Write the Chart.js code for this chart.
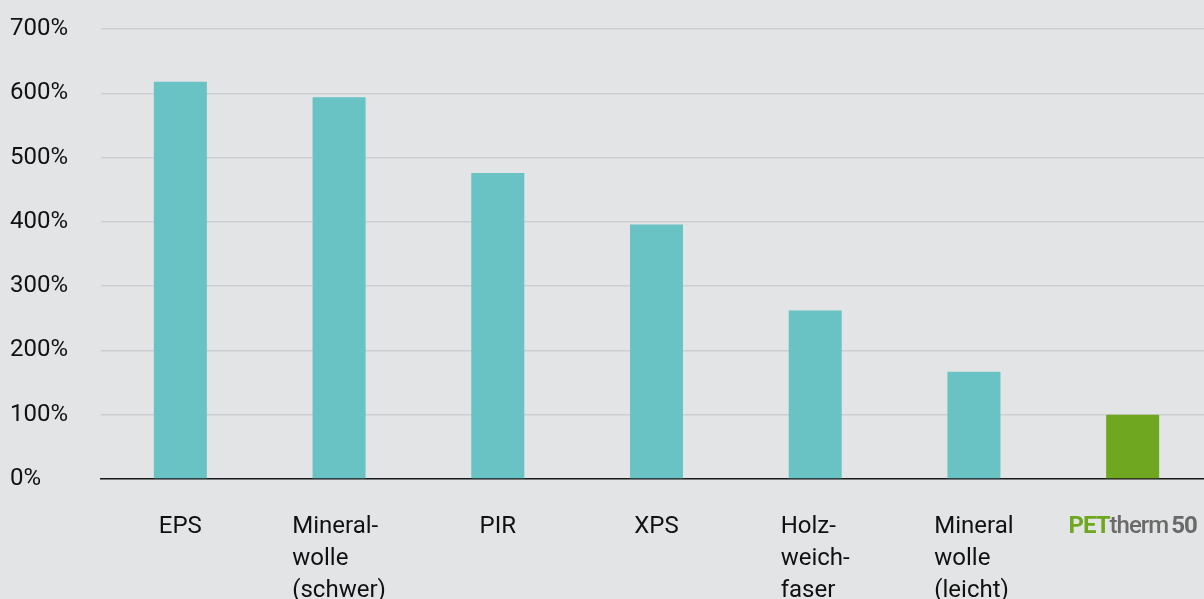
<!DOCTYPE html>
<html>
<head>
<meta charset="utf-8">
<script src="https://cdn.jsdelivr.net/npm/chart.js@4/dist/chart.umd.min.js"></script>
<style>
  html, body { margin: 0; padding: 0; overflow: hidden; background: #e3e4e6; }
  #wrap { position: absolute; left: 0; top: 0; width: 1212px; height: 599px; }
</style>
</head>
<body>
<div id="wrap"><canvas id="chart"></canvas></div>
<script>
const categories = ['EPS', 'Mineralwolle (schwer)', 'PIR', 'XPS', 'Holzweichfaser', 'Mineralwolle (leicht)', 'PETtherm50'];
const labelLines = [
  ['EPS'],
  ['Mineral-', 'wolle', '(schwer)'],
  ['PIR'],
  ['XPS'],
  ['Holz-', 'weich-', 'faser'],
  ['Mineral', 'wolle', '(leicht)'],
  ['PETtherm50'],
];
const values = [618, 594, 476, 396, 262, 167, 100];
const barColors = ['#69c2c4', '#69c2c4', '#69c2c4', '#69c2c4', '#69c2c4', '#69c2c4', '#6fa820'];
const yMin = 0;
const yMax = 700;
const yStep = 100;

const FONT = 'Roboto, "Liberation Sans", sans-serif';

// draws the category labels under the axis: lines left-aligned, block centred on the bar
const categoryLabels = {
  id: 'categoryLabels',
  afterDraw(chart) {
    const ctx = chart.ctx;
    const xScale = chart.scales.x;
    const top = chart.chartArea.bottom + 54;
    const lineHeight = 32;
    ctx.save();
    ctx.textBaseline = 'alphabetic';
    ctx.textAlign = 'left';
    labelLines.forEach((lines, i) => {
      const cx = xScale.getPixelForValue(i);
      if (lines[0] === 'PETtherm50') {
        const parts = [
          { text: lines[0].slice(0, 3), font: 'bold 24px ' + FONT, color: '#6fa820', gap: 0 },
          { text: lines[0].slice(3, 8), font: '500 24px ' + FONT, color: '#6a6a6a', gap: 0 },
          { text: lines[0].slice(8), font: 'bold 24px ' + FONT, color: '#6a6a6a', gap: 3 },
        ];
        ctx.letterSpacing = '-1px';
        let total = 0;
        parts.forEach(p => { ctx.font = p.font; p.w = ctx.measureText(p.text).width; total += p.w + p.gap; });
        let x = cx - total / 2;
        parts.forEach(p => {
          x += p.gap;
          ctx.font = p.font;
          ctx.fillStyle = p.color;
          ctx.fillText(p.text, x, top);
          x += p.w;
        });
        ctx.letterSpacing = '0px';
        return;
      }
      ctx.font = '24px ' + FONT;
      ctx.fillStyle = '#111111';
      const w = Math.max(...lines.map(l => ctx.measureText(l).width));
      const left = cx - w / 2;
      lines.forEach((l, k) => ctx.fillText(l, left, top + k * lineHeight));
    });
    ctx.restore();
  },
};

new Chart(document.getElementById('chart'), {
  type: 'bar',
  data: {
    labels: categories,
    datasets: [{
      data: values,
      backgroundColor: barColors,
      borderWidth: 0,
      barPercentage: 1,
      categoryPercentage: 0.334,
    }],
  },
  options: {
    responsive: true,
    maintainAspectRatio: false,
    animation: false,
    layout: { padding: { left: 10, right: 0, top: 29, bottom: 112 } },
    plugins: { legend: { display: false }, tooltip: { enabled: false } },
    scales: {
      x: {
        grid: { display: false },
        border: { display: true, color: '#1a1a1a', width: 1.5 },
        ticks: { display: false },
      },
      y: {
        min: yMin,
        max: yMax,
        afterFit(scale) { scale.width = 91; },
        grid: { color: '#cdced1', lineWidth: 1.5, drawTicks: false },
        border: { display: false },
        ticks: {
          stepSize: yStep,
          crossAlign: 'far',
          padding: 0,
          color: '#111111',
          font: { family: FONT, size: 24 },
          callback: v => v + '%',
        },
      },
    },
  },
  plugins: [categoryLabels],
});
</script>
</body>
</html>
